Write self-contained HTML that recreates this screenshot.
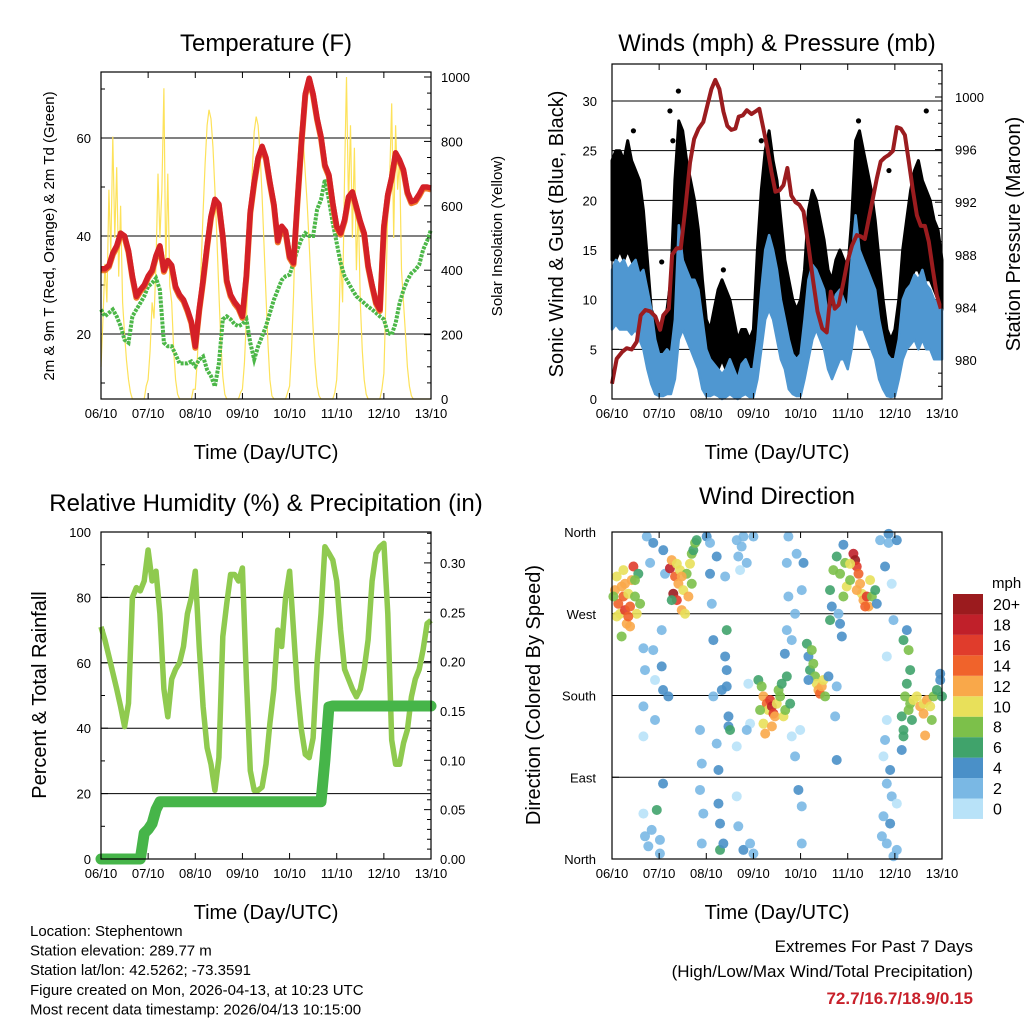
<!DOCTYPE html>
<html><head><meta charset="utf-8"><style>
html,body{margin:0;padding:0;background:#fff;}
svg{display:block;font-family:"Liberation Sans",sans-serif;}
</style></head><body>
<svg id="c" width="1024" height="1024" viewBox="0 0 1024 1024" xmlns="http://www.w3.org/2000/svg"></svg>
<script>
// ---------- DATA ----------
const dayLabels = ["06/10","07/10","08/10","09/10","10/10","11/10","12/10","13/10"];
const hours = [0,2,4,6,8,10,12,14,16,18,20,22,24,26,28,30,32,34,36,38,40,42,44,46,48,50,52,54,56,58,60,62,64,66,68,70,72,74,76,78,80,82,84,86,88,90,92,94,96,98,100,102,104,106,108,110,112,114,116,118,120,122,124,126,128,130,132,134,136,138,140,142,144,146,148,150,152,154,156,158,160,162,164,166,168];
const tempF = [33.3,33.3,34,36.5,38,40.6,40,37,31.8,27.7,29,30,31.8,33,36,38,33,35,34,29.7,28,27,25,22.5,17.5,25,31,38,44,47.5,46.5,40,31,28,26.5,25.5,23.6,32,45,51,56,58.3,56,51,46.5,39,42,41,35.8,34.5,47,59,69,72.2,69,64,60.3,54.5,52.5,46.7,42,40.6,43.3,48,49,46,43,40.6,34,30,26.5,25,42,48.5,52,57,55.5,53.5,49,47,47.3,48.5,50,50,49.8];
const dewF = [25,23.6,24.3,25,23.6,21.6,18.8,18.2,23.6,25,26.3,27.7,29.7,30.4,31.4,29,18.2,17.5,17.5,15.8,14,14,14,14.4,13.4,14.8,15.4,12.7,11.4,9.3,14,23,23.6,23,22,21.6,22,23,18.2,14.8,17.5,19.5,21.6,24.3,27,29,31,31.8,32.1,34.5,37.2,39.3,40.6,40,40,45.4,47.4,51.5,47.4,42.6,38.6,34.5,31.8,30.4,29,27.7,27,26.3,25.6,25,24.3,23.6,23,20.2,19.9,22.2,26.3,29,31,32.4,33.1,34.1,37.2,39,41.3];
const solarDay0 = [100,250,420,300,650,450,815,500,720,380,600,300,200,120,60,20,0,0,0,0,0,0,0,40];
const solarDay1 = [60,150,300,250,420,700,500,650,965,400,700,350,300,150,60,15,0,0,0,0,0,0,0,30];
const solarDay2 = [30,120,260,420,580,730,850,898,870,780,650,500,330,180,70,15,0,0,0,0,0,0,0,20];
const solarDay3 = [30,110,250,400,560,710,830,877,850,760,630,480,320,170,60,10,0,0,0,0,0,0,0,20];
const solarDay4 = [40,150,320,550,700,820,866,800,700,600,480,350,220,110,40,10,0,0,0,0,0,0,0,20];
const solarDay5 = [60,200,450,300,700,1000,600,850,500,780,400,600,300,150,60,15,0,0,0,0,0,0,0,30];
const solarDay6 = [80,300,600,700,918,500,850,650,750,400,300,200,100,40,10,0,0,0,0,0,0,0,0,0];

const presHours = [0,2.4,5.1,7.5,10,12.6,14.6,17,19.4,22.1,24.5,26.1,28.9,30.6,33,35,37.3,39.7,41.8,44.1,46.5,48.6,50.6,52.6,54.7,56.7,58.7,60.8,62.8,64.5,66.6,68.6,71,73,75,77.1,79.1,81.2,83.2,85.2,87.3,89.3,91.3,93.4,95.4,97.5,100.2,102.2,104.6,107,109.3,111.4,113.4,115.4,117.8,119.9,122.2,124.6,126.7,128.7,130.7,132.8,134.8,136.8,138.9,140.9,143,145,147,149.1,151.1,153.1,155.2,157.2,159.3,161.3,163.3,165.4,167.4];
const presMb = [978.2,980.1,980.6,980.9,980.8,981.4,983.4,983.8,983.7,983.3,982.3,983.4,983.9,988,988.5,988.5,991.5,995,996.8,997.6,998.1,999.4,1000.6,1001.3,1000.6,998.9,997.8,997.5,997.6,998.5,998.6,999,998.7,998.9,999.1,997.6,996.1,994.3,992.8,992.9,993.3,994.6,992.5,992,991.8,991.3,988.5,986.2,983.7,982.4,982.1,985.2,983.9,984.2,985.9,987.5,988.7,989.5,989.4,989.2,990.7,992.3,993.8,995.1,995.4,995.6,995.9,997.7,997.6,997.1,995.1,993,991,990.2,990.2,989,986.9,984.9,983.9];
const windHi = [13,14,13.5,14,13,13.5,14,12.5,13,11,9,6,4.5, 4.5,5,4.5,8,17.5,14,13,12,12,11,8,5, 4,3.5,3,2.5,3,4,3,2,3.5,4,3,3, 6,11,15,16.5,15,13,10,8,6,4.5,4,4.5, 8,12,13.5,13,12,11,8,9,10.5,11,10,9, 14,18.5,15,14,13,12,11,8,6,4.5,4,4, 6,10,11,11.5,12.5,12,13,11.5,11,10,9.5,9];
const windLo = [7,7.5,7,7,7,6.5,7,6,5,3,1.5,0.5,0.3, 0.3,0.5,0.5,2,6,7,6,5,4,3,1,0.3, 0.3,0.5,0.3,0,0.2,0.5,0.2,0,0.3,0.5,0.2,0.2, 2,5,8,9,8,6,4,3,1,0.5,0.3,0.3, 2,4,6,7,6,5,3,2,3,4,4,3, 5,8,7,7,6,5,4,2,1,0.3,0.2,0.3, 2,4,5,5.5,6,5,6,5,5,4,4,4];
const gustHi = [24,25,25,24,26,24,23,22,19,14,9,8,7, 8,9,12,22,28,27,24,22,20,17,12,8, 7,9,11,12,11,10,8,6,7,7,6,7, 15,21,25,27,24,22,18,14,12,10,9,10, 13,19,21,20,18,16,13,12,14,15,14,13, 18,26,27,25,23,21,18,14,10,7,6,7, 10,15,18,21,23,24,22,21,20,18,17,14];
const gustLo = [14,14,15,14,15,14,13,12,9,5,3,2,1, 2,3,4,10,15,16,13,11,10,8,4,2, 1,2,3,4,3,2,1,1,1,2,1,1, 5,11,14,16,14,12,9,6,3,2,1,1, 4,9,11,12,11,9,6,4,5,6,6,5, 8,13,15,14,12,11,9,6,3,1,1,1, 3,7,10,12,13,13,12,12,12,11,10,9];
const gustOutHours = [33.8,29.5,160,125.5,10.9,25.3,56.7,31,76,141];
const gustOutMph = [31,29,29,28,27,13.8,13,26,26,23];

const rhPct = [71,67,62,57,52,46.6,40.5,47.6,80,83,82,85,94.5,85,88,75,52,43.5,55,58,60,65,75,80,88,65,46.6,34,29,21,31,68,78,87,87,85,89,55,27,21,21,22,29,41.5,52,70,65,80,88,70,52,39.5,32,31,37,60,75,95.5,93.5,91.4,85,70,58,55,52,49.6,52,58,67,85,93.5,95.5,96.5,75,36.4,29,29,35.4,39.5,49.6,55,58,64,72,73];
const precipIn = [0,0,0,0,0,0,0,0,0,0,0,0.026,0.03,0.036,0.05,0.058,0.058,0.058,0.058,0.058,0.058,0.058,0.058,0.058,0.058,0.058,0.058,0.058,0.058,0.058,0.058,0.058,0.058,0.058,0.058,0.058,0.058,0.058,0.058,0.058,0.058,0.058,0.058,0.058,0.058,0.058,0.058,0.058,0.058,0.058,0.058,0.058,0.058,0.058,0.058,0.058,0.058,0.10,0.154,0.155,0.155,0.155,0.155,0.155,0.155,0.155,0.155,0.155,0.155,0.155,0.155,0.155,0.155,0.155,0.155,0.155,0.155,0.155,0.155,0.155,0.155,0.155,0.155,0.155,0.155];

const dirHours = [1.5,2.4,3.2,4.1,4.9,5.8,6.6,7.5,8.3,9.2,10,10.9,11.7,12.6,13.4,14.3,4.9,9.2,2.4,6.6,11.7,0.7,8.3,5.8,
16,16.8,16,16,16,16.8,18.5,19.4,17.7,21,21,21.9,21.9,24.4,25.3,26,26,25.3,27,28.7,22.8,24.4,20.2,26.1,
29.5,30.4,31.2,32.1,33,33.8,34.6,35.5,36.3,37.2,38,38.9,39.7,40.6,41.4,42.3,43.1,30.4,33,35.5,40.6,
44.8,45.7,44.8,46.5,45.7,48.2,49.9,49.9,50.8,51.6,51.6,53.3,53.3,54.2,54.2,55,55,56.7,57.6,58.4,58.4,58.4,59.3,59.3,57.6,55.9,60.1,63.5,64.3,65.2,66,66.9,68.6,69.4,70.3,68.6,63.5,64.3,66.9,70.3,72,72,63.5,
74.5,76.2,77.1,78.8,79.6,80.5,81.4,82.2,83,83.9,84.8,85.6,86.4,87.3,88.2,89,77.1,78,81.4,90.7,75.4,
88,89,89.8,89,89.8,91.5,91.5,93.2,94.9,96.6,96.6,94,97.5,96.6,93.2,95.8,
99.2,100,100.8,101.7,102.5,103.4,104.2,105.1,105.9,106.8,107.6,108.5,100,110.2,113.6,114.4,114.4,
111,111.9,111,112.7,114.4,116.1,117.8,118.7,119.5,121.2,122.9,123.8,124.6,125.5,126.3,127.2,128,129.7,130.6,131.4,132.3,134,134.8,117.8,116.1,117,115.3,128.9,124.6,121.2,
136.5,139,140.8,140.8,142.4,143.3,145,139.9,139.9,139,138.2,141.6,139.9,142.4,138.2,141.6,139.9,145,137.4,143.3,145,147.5,148.4,147.5,
148.4,150.1,151,151.8,150.1,149.2,151.8,153.5,155.2,156.9,158.6,160.3,162,163.7,165.4,167.1,168,159.4,158.6,162.8,152.7,148.4,151,167.1];
const dirDeg = [296,311,281,270,300,289,274,259,292,278,307,322,289,270,314,281,245,256,267,303,307,289,267,318,
232,208,168,135,50,25,14,326,355,348,230,197,153,21,212,83,186,252,314,179,54,6,32,340,
320,329,292,311,285,303,318,274,296,270,314,289,325,336,340,348,351,285,325,311,303,
142,105,76,50,17,355,348,314,281,241,179,333,127,98,61,39,10,17,311,252,208,190,157,146,223,186,142,351,333,318,344,355,326,193,149,142,69,36,10,17,6,355,124,
197,190,179,171,164,175,168,160,157,171,186,179,193,157,164,201,149,138,146,171,164,
226,252,289,326,355,241,135,113,76,58,17,336,326,296,270,142,
237,223,208,230,215,201,193,186,182,190,197,179,197,201,157,109,190,
263,278,296,318,333,314,346,326,300,307,336,329,322,314,303,292,285,289,278,307,289,296,281,289,259,245,270,278,296,325,
351,322,358,348,303,263,351,223,153,131,113,98,83,69,47,39,17,10,25,3,61,120,142,157,
241,252,230,208,193,179,171,175,179,168,171,175,168,179,186,197,179,136,160,153,153,135,164,204];
const dirSpeed = [12,10,14,10,12,14,16,12,10,14,12,16,8,10,6,8,8,12,10,12,8,8,14,10,
2,2,2,0,0,2,2,2,2,4,2,0,2,2,4,4,4,2,2,4,6,2,2,4,
18,12,20,14,16,12,10,12,10,10,8,12,10,8,6,8,6,6,10,12,8,
2,2,2,2,2,4,2,4,2,4,2,4,2,4,4,4,6,4,2,6,4,4,4,4,4,4,6,2,2,0,2,2,2,0,0,2,0,2,4,2,2,2,0,
6,8,12,14,10,16,18,16,12,10,8,8,6,10,8,6,10,12,12,6,8,
4,2,2,2,2,2,0,2,4,2,2,2,4,2,2,0,
6,4,6,8,8,8,10,12,14,12,10,8,4,4,2,4,2,
6,4,6,8,6,8,4,8,10,8,18,20,16,14,12,10,12,16,12,10,8,6,4,8,4,4,2,14,12,10,
2,4,4,2,0,2,4,0,0,2,0,4,2,2,2,4,2,2,2,2,0,4,6,6,
6,4,8,6,6,8,8,10,10,12,10,12,10,8,6,4,6,12,12,8,6,6,8,4];
const speedColors = ["#b8e2f8","#7ab8e4","#4a90c8","#40a36b","#7cc04a","#e8e05a","#f9a84a","#f0632b","#e03c2c","#c0202a","#9b1b1e"];
const speedLabels = ["0","2","4","6","8","10","12","14","16","18","20+"];

// ---------- HELPERS ----------
const NS = "http://www.w3.org/2000/svg";
const svg = document.getElementById("c");
function mk(tag, attrs, parent, name, inter) {
  const el = document.createElementNS(NS, tag);
  for (const k in attrs) el.setAttribute(k, attrs[k]);
  
  
  (parent || svg).appendChild(el);
  return el;
}
function txt(x, y, s, size, anchor, parent, name, extra) {
  const a = Object.assign({x: x, y: y, "font-size": size, "text-anchor": anchor || "middle", fill: "#000"}, extra || {});
  const t = mk("text", a, parent, name, false);
  t.textContent = s;
  return t;
}
function line(x1,y1,x2,y2,parent,name,stroke,w){
  return mk("line",{x1:x1,y1:y1,x2:x2,y2:y2,stroke:stroke||"#000","stroke-width":w||1},parent,name,false);
}
function panelFrame(p, g) {
  for (let d = 0; d <= 7; d++) {
    const x = p.x0 + (p.x1 - p.x0) * d / 7;
    line(x, p.y1, x, p.y1 - 6, g, "x-tick-bottom");
    line(x, p.y0, x, p.y0 + 6, g, "x-tick-top");
    txt(x, p.y1 + 19, dayLabels[d], 13, "middle", g, "x-tick-label");
  }
  mk("rect",{x:p.x0,y:p.y0,width:p.x1-p.x0,height:p.y1-p.y0,fill:"none",stroke:"#000","stroke-width":1.2},g,"plot-frame",false);
}
function polyPath(xs, ys) {
  let d = "";
  for (let i = 0; i < xs.length && i < ys.length; i++) d += (i ? "L" : "M") + xs[i].toFixed(1) + "," + ys[i].toFixed(1);
  return d;
}

// ---------- PANEL 1: TEMPERATURE ----------
(function(){
  const p = {x0:101,x1:431,y0:72,y1:399};
  const g = mk("g",{},svg,"temperature-panel",false);
  const X = h => p.x0 + (p.x1 - p.x0) * h / 168;
  const Y = t => 334 - (t - 20) * 4.9;
  const YS = s => 399 - s * 0.322;
  txt(266, 51, "Temperature (F)", 24, "middle", g, "temperature-title");
  [20,40,60].forEach(v => line(p.x0, Y(v), p.x1, Y(v), g, "grid-line", "#000", 1));
  for (let v = 10; v <= 70; v += 10) { line(p.x0, Y(v), p.x0 + (v % 20 ? 4 : 7), Y(v), g, "y-tick"); }
  [20,40,60].forEach(v => txt(91, Y(v) + 5, String(v), 13, "end", g, "y-tick-label"));
  for (let v = 0; v <= 1000; v += 50) line(p.x1, YS(v), p.x1 - (v % 200 ? 4 : 7), YS(v), g, "y2-tick");
  for (let v = 0; v <= 1000; v += 200) txt(441, YS(v) + 5, String(v), 13, "start", g, "y2-tick-label");
  const solarAll = [].concat(solarDay0, solarDay1, solarDay2, solarDay3, solarDay4, solarDay5, solarDay6, [0]);
  const sx = solarAll.map((v, i) => X(i)), sy = solarAll.map(v => YS(v));
  mk("path",{d:polyPath(sx,sy),fill:"none",stroke:"#fde25a","stroke-width":1.2},g,"solar-line",false);
  mk("path",{d:polyPath(hours.map(X), dewF.map(Y)),fill:"none",stroke:"#4cb748","stroke-width":4,"stroke-dasharray":"3,1.2"},g,"dewpoint-line",false);
  mk("path",{d:polyPath(hours.map(X), tempF.map(Y)),fill:"none",stroke:"#f07a2a","stroke-width":6,"stroke-linejoin":"round","transform":"translate(0,1.5)"},g,"temp-9m-line",false);
  mk("path",{d:polyPath(hours.map(X), tempF.map(Y)),fill:"none",stroke:"#d42027","stroke-width":5.5,"stroke-linejoin":"round"},g,"temp-2m-line",false);
  panelFrame(p, g);
  txt(266, 459, "Time (Day/UTC)", 20, "middle", g, "x-axis-title");
  txt(0, 0, "2m & 9m T (Red, Orange) & 2m Td (Green)", 15, "middle", g, "y-axis-title", {transform:"translate(54,236) rotate(-90)"});
  txt(0, 0, "Solar Insolation (Yellow)", 15, "middle", g, "y2-axis-title", {transform:"translate(502,236) rotate(-90)"});
})();

// ---------- PANEL 2: WINDS & PRESSURE ----------
(function(){
  const p = {x0:612,x1:942,y0:64,y1:399};
  const g = mk("g",{},svg,"winds-panel",false);
  const X = h => p.x0 + (p.x1 - p.x0) * h / 168;
  const Y = m => 399 - m * 9.933;
  const YP = b => 360 - (b - 980) * 13.15;
  txt(777, 51, "Winds (mph) & Pressure (mb)", 24, "middle", g, "winds-title");
  for (let v = 5; v <= 30; v += 5) line(p.x0, Y(v), p.x1, Y(v), g, "grid-line", "#000", 1);
  for (let v = 0; v <= 30; v += 5) { line(p.x0, Y(v), p.x0 + 7, Y(v), g, "y-tick"); txt(597, Y(v) + 5, String(v), 13, "end", g, "y-tick-label"); }
  for (let v = 978; v <= 1002; v += 1) if (YP(v) >= p.y0 && YP(v) <= p.y1) line(p.x1, YP(v), p.x1 - (v % 4 ? 4 : 7), YP(v), g, "y2-tick");
  for (let v = 980; v <= 1000; v += 4) txt(955, YP(v) + 5, String(v), 13, "start", g, "y2-tick-label");
  const gx = hours.map(X);
  const gd = polyPath(gx, gustHi.map(Y)) + polyPath(gx.slice().reverse(), gustLo.slice().reverse().map(Y)).replace("M","L") + "Z";
  mk("path",{d:gd,fill:"#000",stroke:"#000","stroke-width":3,"stroke-linejoin":"round"},g,"gust-scatter",false);
  for (let i = 0; i < gustOutHours.length; i++) mk("circle",{cx:X(gustOutHours[i]),cy:Y(gustOutMph[i]),r:2.6,fill:"#000"},g,"gust-point",false);
  const wd = polyPath(gx, windHi.map(Y)) + polyPath(gx.slice().reverse(), windLo.slice().reverse().map(Y)).replace("M","L") + "Z";
  mk("path",{d:wd,fill:"#4f97d1",stroke:"#4f97d1","stroke-width":2.5,"stroke-linejoin":"round"},g,"wind-band",false);
  mk("path",{d:polyPath(presHours.map(X), presMb.map(YP)),fill:"none",stroke:"#9b1c1f","stroke-width":4,"stroke-linejoin":"round"},g,"pressure-line",false);
  panelFrame(p, g);
  txt(777, 459, "Time (Day/UTC)", 20, "middle", g, "x-axis-title");
  txt(0, 0, "Sonic Wind & Gust (Blue, Black)", 20, "middle", g, "y-axis-title", {transform:"translate(563,234) rotate(-90)"});
  txt(0, 0, "Station Pressure (Maroon)", 20, "middle", g, "y2-axis-title", {transform:"translate(1020,234) rotate(-90)"});
})();

// ---------- PANEL 3: RH & PRECIP ----------
(function(){
  const p = {x0:101,x1:431,y0:532,y1:859};
  const g = mk("g",{},svg,"humidity-panel",false);
  const X = h => p.x0 + (p.x1 - p.x0) * h / 168;
  const Y = r => 859 - r * 3.27;
  const YR = v => 859 - v * 987;
  txt(266, 511, "Relative Humidity (%) & Precipitation (in)", 24, "middle", g, "humidity-title");
  [20,40,60,80].forEach(v => line(p.x0, Y(v), p.x1, Y(v), g, "grid-line", "#000", 1));
  for (let v = 0; v <= 100; v += 10) line(p.x0, Y(v), p.x0 + (v % 20 ? 4 : 7), Y(v), g, "y-tick");
  for (let v = 0; v <= 100; v += 20) txt(91, Y(v) + 5, String(v), 13, "end", g, "y-tick-label");
  for (let k = 0; k <= 33; k++) line(p.x1, YR(k / 100), p.x1 - (k % 5 ? 4 : 7), YR(k / 100), g, "y2-tick");
  for (let k = 0; k <= 6; k++) txt(440, YR(k * 0.05) + 5, (k * 0.05).toFixed(2), 13, "start", g, "y2-tick-label");
  mk("path",{d:polyPath(hours.map(X), rhPct.map(Y)),fill:"none",stroke:"#8fca4f","stroke-width":5.5,"stroke-linejoin":"round"},g,"rh-line",false);
  mk("path",{d:polyPath(hours.map(X), precipIn.map(YR)),fill:"none",stroke:"#46b549","stroke-width":11,"stroke-linejoin":"round","stroke-linecap":"round"},g,"precip-line",false);
  panelFrame(p, g);
  txt(266, 919, "Time (Day/UTC)", 20, "middle", g, "x-axis-title");
  txt(0, 0, "Percent & Total Rainfall", 20, "middle", g, "y-axis-title", {transform:"translate(46,695) rotate(-90)"});
})();

// ---------- PANEL 4: WIND DIRECTION ----------
(function(){
  const p = {x0:612,x1:942,y0:532,y1:859};
  const g = mk("g",{},svg,"wind-direction-panel",false);
  const X = h => p.x0 + (p.x1 - p.x0) * h / 168;
  const Y = d => 859 - d * 327 / 360;
  txt(777, 504, "Wind Direction", 24, "middle", g, "wind-direction-title");
  const cards = ["North","East","South","West","North"];
  for (let i = 0; i <= 4; i++) {
    if (i > 0 && i < 4) line(p.x0, Y(i * 90), p.x1, Y(i * 90), g, "grid-line", "#000", 1);
    line(p.x0, Y(i * 90), p.x0 + 7, Y(i * 90), g, "y-tick");
    txt(596, Y(i * 90) + 5, cards[i], 13, "end", g, "y-tick-label");
  }
  for (let i = 0; i < dirHours.length && i < dirDeg.length && i < dirSpeed.length; i++) {
    const ci = Math.min(10, Math.floor(dirSpeed[i] / 2));
    mk("circle",{cx:X(dirHours[i]),cy:Y(dirDeg[i]),r:5,fill:speedColors[ci],"fill-opacity":0.9},g,"direction-point",false);
  }
  panelFrame(p, g);
  txt(777, 919, "Time (Day/UTC)", 20, "middle", g, "x-axis-title");
  txt(0, 0, "Direction (Colored By Speed)", 20, "middle", g, "y-axis-title", {transform:"translate(540,695) rotate(-90)"});
  const cb = mk("g",{},svg,"speed-colorbar",false);
  txt(992, 588, "mph", 15, "start", cb, "colorbar-title");
  for (let k = 0; k < 11; k++) {
    const y = 594 + (10 - k) * 20.45;
    mk("rect",{x:953,y:y,width:30,height:20.45,fill:speedColors[k]},cb,"colorbar-swatch",false);
    txt(993, y + 16, speedLabels[k], 16, "start", cb, "colorbar-label");
  }
})();

// ---------- FOOTER ----------
(function(){
  const g = mk("g",{},svg,"station-info",false);
  const lines = ["Location: Stephentown","Station elevation: 289.77 m","Station lat/lon: 42.5262; -73.3591","Figure created on Mon, 2026-04-13, at 10:23 UTC","Most recent data timestamp: 2026/04/13 10:15:00"];
  lines.forEach((s, i) => txt(30, 936 + i * 19.6, s, 15, "start", g, "station-info-line"));
  const e = mk("g",{},svg,"extremes-summary",false);
  txt(973, 952, "Extremes For Past 7 Days", 17, "end", e, "extremes-title");
  txt(973, 977, "(High/Low/Max Wind/Total Precipitation)", 17, "end", e, "extremes-subtitle");
  txt(973, 1004, "72.7/16.7/18.9/0.15", 17, "end", e, "extremes-values", {fill:"#c8202a","font-weight":"bold"});
})();
</script>
</body></html>
